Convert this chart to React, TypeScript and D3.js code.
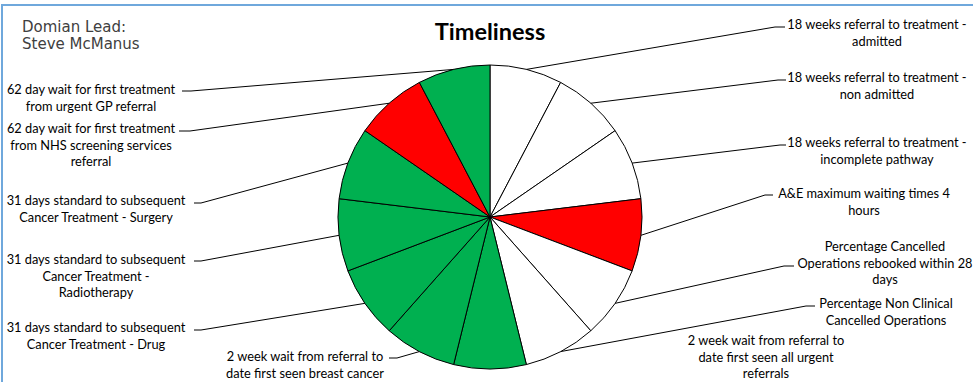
import React, { useEffect, useRef } from "react";
import * as d3 from "d3";

// indicators, clockwise from 12 o'clock
const indicators = [
  ["18 weeks referral to treatment -", "admitted"],
  ["18 weeks referral to treatment -", "non admitted"],
  ["18 weeks referral to treatment -", "incomplete pathway"],
  ["A&E maximum waiting times 4", "hours"],
  ["Percentage Cancelled", "Operations rebooked within 28", "days"],
  ["Percentage Non Clinical", "Cancelled Operations"],
  ["2 week wait from referral to", "date first seen all urgent", "referrals"],
  ["2 week wait from referral to", "date first seen breast cancer"],
  ["31 days standard to subsequent", "Cancer Treatment - Drug"],
  ["31 days standard to subsequent", "Cancer Treatment -", "Radiotherapy"],
  ["31 days standard to subsequent", "Cancer Treatment - Surgery"],
  ["62 day wait for first treatment", "from NHS screening services", "referral"],
  ["62 day wait for first treatment", "from urgent GP referral"],
];

const status = ["none", "none", "none", "red", "none", "none", "green", "green", "green", "green", "green", "red", "green"];
const weights = [1, 1, 1, 1, 1, 1, 1, 1, 1, 1, 1, 1, 1];

const title = "Timeliness";
const leadLines = ["Domian Lead:", "Steve McManus"];

// label placement: text centre, first baseline, leader tail (x1 -> x2 at y)
const labelLayout = [
  { cx: 877, y: 29, lx1: 775, lx2: 785, ly: 27 },
  { cx: 877, y: 82, lx1: 778, lx2: 786, ly: 80 },
  { cx: 877, y: 147, lx1: 780, lx2: 786, ly: 145 },
  { cx: 864, y: 198, lx1: 765, lx2: 773, ly: 195 },
  { cx: 885, y: 251, lx1: 784, lx2: 794, ly: 266 },
  { cx: 886, y: 308, lx1: 806, lx2: 815, ly: 306 },
  { cx: 766, y: 345, lx1: null, lx2: null, ly: null },
  { cx: 305, y: 361, lx1: 397, lx2: 389, ly: 358 },
  { cx: 96, y: 332, lx1: 201, lx2: 194, ly: 330 },
  { cx: 96, y: 264, lx1: 201, lx2: 194, ly: 261 },
  { cx: 96, y: 205, lx1: 201, lx2: 194, ly: 203 },
  { cx: 91, y: 133, lx1: 190, lx2: 179, ly: 131 },
  { cx: 91, y: 94, lx1: 191, lx2: 182, ly: 91 },
];

const fills: Record<string, string> = { none: "#FFFFFF", red: "#FF0000", green: "#00B050" };

const W = 973;
const H = 382;

export default function App() {
  const svgRef = useRef<SVGSVGElement>(null);

  useEffect(() => {
    const svg = d3.select(svgRef.current);
    svg.selectAll("*").remove();

    const labelFont = "Lato, 'Open Sans', sans-serif";
    const cx = 490;
    const cy = 217;
    const r = 152;

    // frame
    svg.append("rect")
      .attr("x", 2).attr("y", 5)
      .attr("width", W + 20).attr("height", H + 20)
      .attr("fill", "#fff")
      .attr("stroke", "#6FA8DC")
      .attr("stroke-width", 2);

    // lead text
    svg.append("g")
      .selectAll("text")
      .data(leadLines)
      .enter().append("text")
      .attr("x", 22)
      .attr("y", (d, i) => 32 + i * 17)
      .attr("font-family", "'DejaVu Sans', Verdana, sans-serif")
      .attr("font-size", 15)
      .attr("fill", "#404040")
      .text(d => d);

    // title
    svg.append("text")
      .attr("x", cx)
      .attr("y", 40)
      .attr("text-anchor", "middle")
      .attr("font-family", labelFont)
      .attr("font-weight", "bold")
      .attr("font-size", 23.5)
      .attr("fill", "#000")
      .text(title);

    const data = indicators.map((lines, i) => ({ lines, status: status[i], w: weights[i], layout: labelLayout[i] }));

    const pie = d3.pie<any>().value(d => d.w).sort(null).startAngle(0).endAngle(2 * Math.PI);
    const arcs = pie(data);
    const arc = d3.arc<any>().innerRadius(0).outerRadius(r);
    const edge = d3.arc<any>().innerRadius(r).outerRadius(r);

    const g = svg.append("g").attr("transform", `translate(${cx},${cy})`);

    // slices
    g.selectAll("path.slice")
      .data(arcs)
      .enter().append("path")
      .attr("class", "slice")
      .attr("d", arc)
      .attr("fill", d => fills[d.data.status])
      .attr("stroke", "#000")
      .attr("stroke-width", 1)
      .attr("stroke-linejoin", "round");

    // leader lines
    svg.append("g")
      .selectAll("polyline")
      .data(arcs.filter(d => d.data.layout.lx1 !== null))
      .enter().append("polyline")
      .attr("points", d => {
        const [ex, ey] = edge.centroid(d);
        const L = d.data.layout;
        return `${cx + ex},${cy + ey} ${L.lx1},${L.ly} ${L.lx2},${L.ly}`;
      })
      .attr("fill", "none")
      .attr("stroke", "#000")
      .attr("stroke-width", 1);

    // labels
    const labels = svg.append("g")
      .selectAll("text")
      .data(arcs)
      .enter().append("text")
      .attr("text-anchor", "middle")
      .attr("font-family", labelFont)
      .attr("font-size", 12.8)
      .attr("fill", "#000");

    labels.selectAll("tspan")
      .data(d => d.data.lines.map((t: string, i: number) => ({ t, i, L: d.data.layout })))
      .enter().append("tspan")
      .attr("x", (d: any) => d.L.cx)
      .attr("y", (d: any) => d.L.y + d.i * 16.5)
      .text((d: any) => d.t);
  }, []);

  return (
    <svg
      ref={svgRef}
      width={W}
      height={H}
      style={{ position: "absolute", left: 0, top: 0, background: "#fff" }}
    />
  );
}
